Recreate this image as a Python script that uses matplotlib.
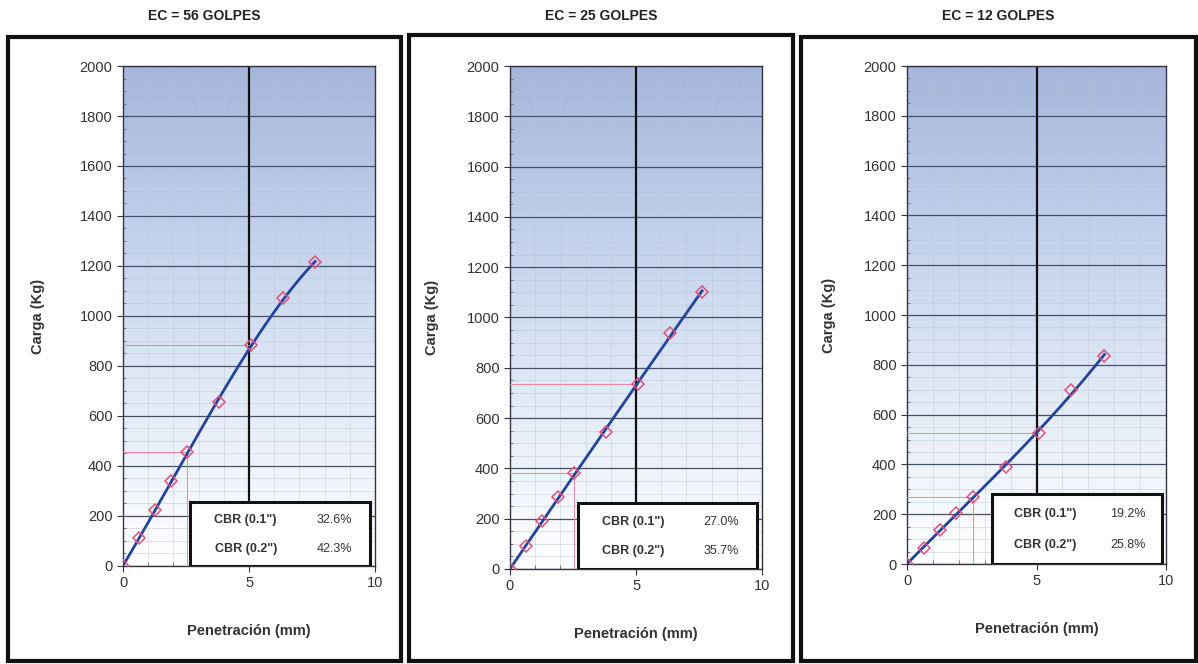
import matplotlib.pyplot as plt
import numpy as np
from matplotlib.patches import Rectangle
from matplotlib.colors import LinearSegmentedColormap

plt.rcParams['font.family'] = ['Liberation Sans', 'DejaVu Sans']

# penetracion estandar (mm)
penetracion = [0, 0.64, 1.27, 1.91, 2.54, 3.81, 5.08, 6.35, 7.62]

# cargas leidas para cada energia de compactacion (Kg)
carga_56 = [0, 110, 225, 340, 455, 655, 885, 1070, 1215]
carga_25 = [0, 90, 190, 285, 380, 545, 735, 940, 1100]
carga_12 = [0, 65, 135, 205, 270, 390, 525, 700, 835]

titulos = ["EC = 56 GOLPES", "EC = 25 GOLPES", "EC = 12 GOLPES"]
cbr_01 = ["32.6%", "27.0%", "19.2%"]
cbr_02 = ["42.3%", "35.7%", "25.8%"]

# cargas corregidas a 0.1" y 0.2"
carga_01 = [455, 380, 270]
carga_02 = [885, 735, 525]

cargas = [carga_56, carga_25, carga_12]

# posiciones de cada grafico (figura)
ejes_pos = [[0.1027, 0.1476, 0.2104, 0.7530],
            [0.4257, 0.1431, 0.2104, 0.7575],
            [0.7571, 0.1506, 0.2162, 0.7500]]
marcos = [[8, 37, 401, 661], [409, 35, 793, 661], [801, 37, 1196, 661]]
caja_cbr = [[2.65, 9.8, 256], [2.7, 9.8, 262], [3.3, 9.85, 280]]
pad_y = [25, 20, 20]

fig = plt.figure(figsize=(11.98, 6.64), dpi=100)
W, H = 1198, 664

fondo = LinearSegmentedColormap.from_list(
    "fondo", ["#ffffff", "#e3ebf7", "#c2d1ec", "#a4b6db"], N=256)

for i in range(3):
    x0, y0, x1, y1 = marcos[i]
    fig.patches.append(Rectangle((x0 / W, 1 - y1 / H), (x1 - x0) / W, (y1 - y0) / H,
                                 transform=fig.transFigure, fill=False,
                                 edgecolor="#111111", linewidth=3, zorder=0))
    fig.text((x0 + x1) / 2 / W, 1 - 16 / H, titulos[i], ha="center", va="center",
             fontsize=10, fontweight="bold", color="#222222")

    ax = fig.add_axes(ejes_pos[i])
    ax.set_xlim(0, 10)
    ax.set_ylim(0, 2000)

    grad = np.linspace(0, 1, 256).reshape(-1, 1)
    ax.imshow(grad, cmap=fondo, origin="lower", aspect="auto",
              extent=[0, 10, 0, 2000], zorder=0)

    ax.set_xticks([0, 5, 10])
    ax.set_yticks(np.arange(0, 2001, 200))
    ax.set_xticks(np.arange(0, 11, 1), minor=True)
    ax.set_yticks(np.arange(0, 2001, 50), minor=True)
    ax.grid(which="major", axis="y", color="#46506a", linewidth=0.9, zorder=1)
    ax.grid(which="minor", color="#b8c2d2", linewidth=0.5, alpha=0.6, zorder=1)
    ax.axvline(5, color="#111111", linewidth=1.6, zorder=2)
    ax.tick_params(which="major", labelsize=10.5, colors="#333333", length=4,
                   direction="out")
    ax.tick_params(which="minor", length=2, colors="#666666", direction="in")
    ax.tick_params(axis="x", which="minor", length=3)
    for sp in ax.spines.values():
        sp.set_color("#333344")
        sp.set_linewidth(1.0)

    # lineas de lectura a 0.1" y 0.2"
    ax.plot([0, 2.54], [carga_01[i], carga_01[i]], color="#e88a98", lw=0.7, zorder=3)
    ax.plot([2.54, 2.54], [0, carga_01[i]], color="#e88a98", lw=0.7, zorder=3)
    ax.plot([0, 5.08], [carga_02[i], carga_02[i]], color="#e88a98", lw=0.7, zorder=3)

    # curva de ajuste
    coef = np.polyfit(penetracion, cargas[i], 3)
    xs = np.linspace(0, penetracion[-1], 200)
    ax.plot(xs, np.polyval(coef, xs), color="#22449a", linewidth=2, zorder=4)
    ax.plot(penetracion, cargas[i], linestyle="none", marker="D", markersize=6.5,
            markerfacecolor="none", markeredgecolor="#e0507a", markeredgewidth=1.1,
            zorder=5)

    # cuadro de valores CBR
    bx0, bx1, by1 = caja_cbr[i]
    ax.add_patch(Rectangle((bx0, 0), bx1 - bx0, by1, facecolor="white",
                           edgecolor="#111111", linewidth=2.2, zorder=6))
    ax.text(bx0 + 0.31 * (bx1 - bx0), by1 * 0.72, 'CBR (0.1")', ha="center",
            va="center", fontsize=9, fontweight="bold", color="#333333", zorder=7)
    ax.text(bx0 + 0.31 * (bx1 - bx0), by1 * 0.27, 'CBR (0.2")', ha="center",
            va="center", fontsize=9, fontweight="bold", color="#333333", zorder=7)
    ax.text(bx0 + 0.80 * (bx1 - bx0), by1 * 0.72, cbr_01[i], ha="center",
            va="center", fontsize=9, color="#333333", zorder=7)
    ax.text(bx0 + 0.80 * (bx1 - bx0), by1 * 0.27, cbr_02[i], ha="center",
            va="center", fontsize=9, color="#333333", zorder=7)

    ax.set_ylabel("Carga (Kg)", fontsize=10.5, fontweight="bold", color="#333333",
                  labelpad=pad_y[i])
    ax.set_xlabel("Penetración (mm)", fontsize=10.5, fontweight="bold",
                  color="#333333", labelpad=24)

fig.savefig("out.png", dpi=100)
